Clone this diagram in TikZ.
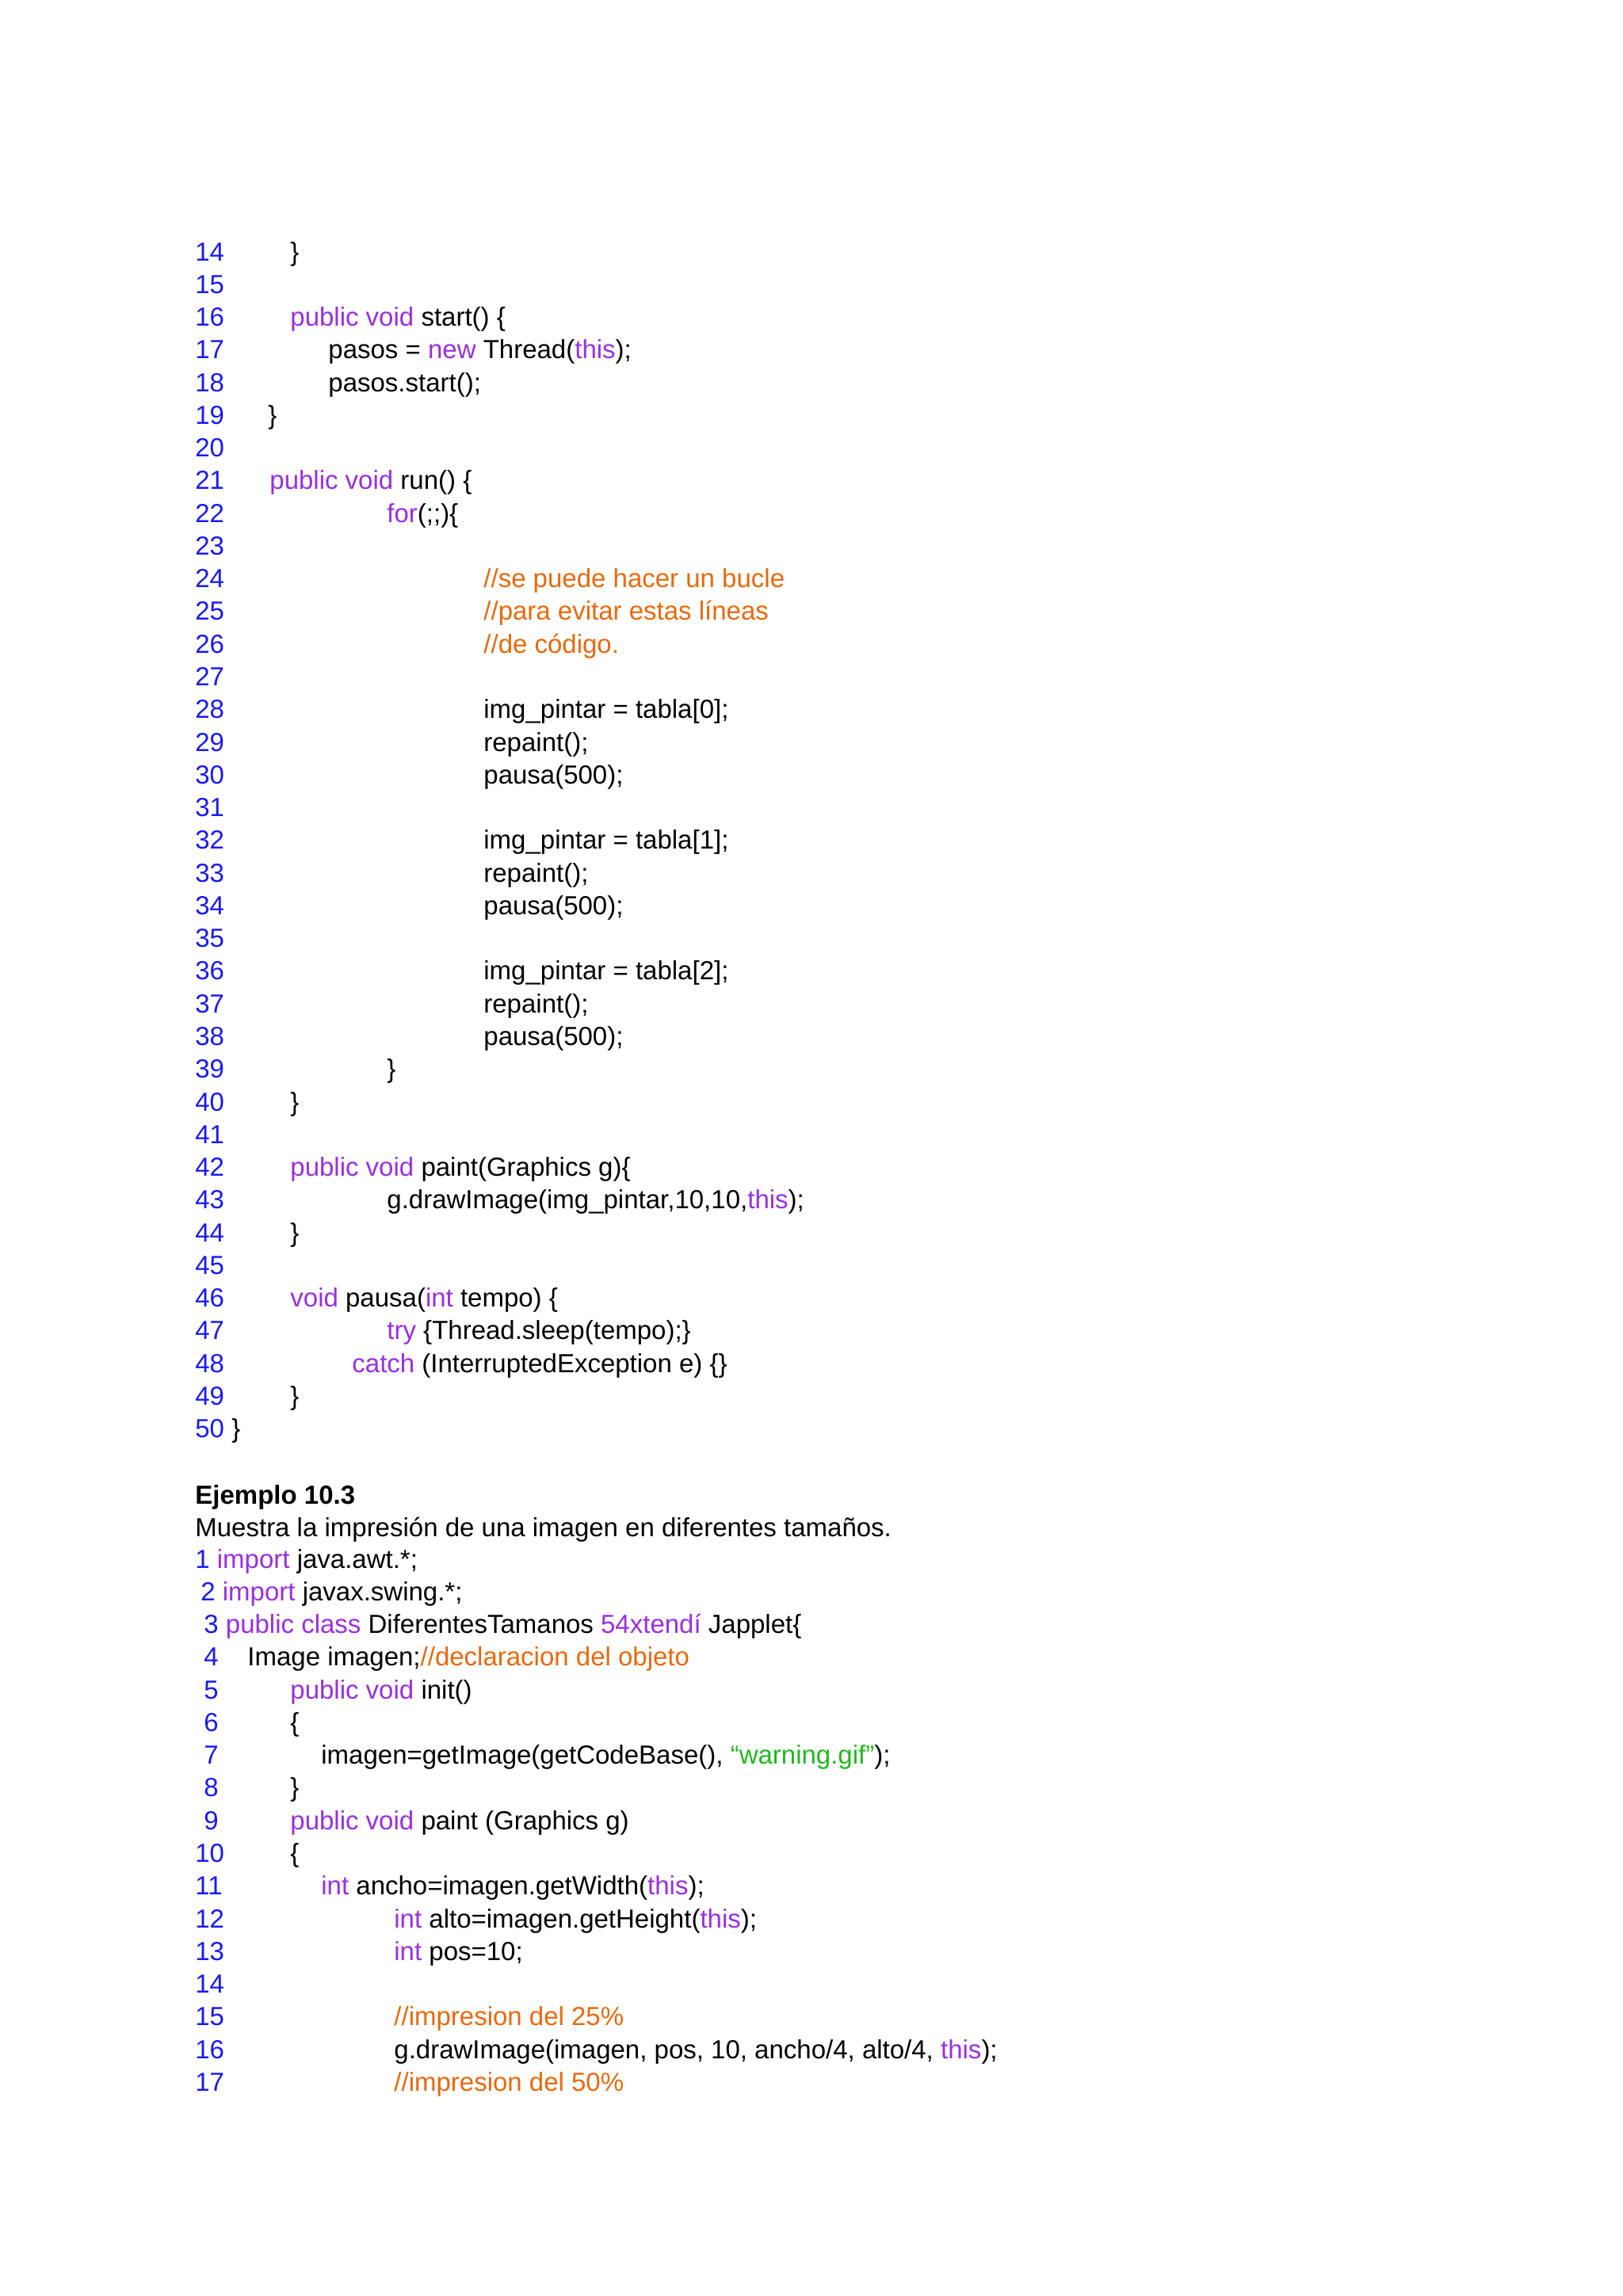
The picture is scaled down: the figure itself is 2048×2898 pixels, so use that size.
\documentclass[tikz,border=0pt]{standalone}
\usepackage{fontspec}
\setmainfont{Liberation Sans}
\definecolor{nb}{HTML}{1A1AF0}
\definecolor{kw}{HTML}{9A2FE0}
\definecolor{cm}{HTML}{E8690F}
\definecolor{st}{HTML}{20B820}
\newcommand{\K}[1]{\textcolor{kw}{#1}}
\newcommand{\C}[1]{\textcolor{cm}{#1}}
\newcommand{\N}[1]{\textcolor{nb}{#1}}
\begin{document}
\begin{tikzpicture}[x=0.5pt,y=-0.5pt,
  tx/.style={anchor=base west,inner sep=0pt,font=\fontsize{16.5pt}{19pt}\selectfont}]
\useasboundingbox[fill=white] (0,0) rectangle (2048,2898);
\newcommand{\LA}[4]{\node[tx] (a#1) at (#2,{329+41.27*(#1-14)}) {#3};\node[tx] (c#1) at (#2,{329+41.27*(#1-14)}) {};}
\newcommand{\LN}[1]{\node[tx] (n#1) at (246,{329+41.27*(#1-14)}) {\N{#1}};}
\newcommand{\LC}[3]{\LN{#1}\node[tx] (t#1) at (#2,{329+41.27*(#1-14)}) {#3};}
\LC{14}{366}{\}}
\LN{15}
\LC{16}{366}{\K{public void} start() \{}
\LC{17}{414}{pasos = \K{new} Thread(\K{this});}
\LC{18}{414}{pasos.start();}
\LC{19}{338}{\}}
\LN{20}
\LC{21}{340}{\K{public void} run() \{}
\LC{22}{488}{\K{for}(;;)\{}
\LN{23}
\LC{24}{610}{\C{//se puede hacer un bucle}}
\LC{25}{610}{\C{//para evitar estas líneas}}
\LC{26}{610}{\C{//de código.}}
\LN{27}
\LC{28}{610}{img\_pintar = tabla[0];}
\LC{29}{610}{repaint();}
\LC{30}{610}{pausa(500);}
\LN{31}
\LC{32}{610}{img\_pintar = tabla[1];}
\LC{33}{610}{repaint();}
\LC{34}{610}{pausa(500);}
\LN{35}
\LC{36}{610}{img\_pintar = tabla[2];}
\LC{37}{610}{repaint();}
\LC{38}{610}{pausa(500);}
\LC{39}{488}{\}}
\LC{40}{366}{\}}
\LN{41}
\LC{42}{366}{\K{public void} paint(Graphics g)\{}
\LC{43}{488}{g.drawImage(img\_pintar,10,10,\K{this});}
\LC{44}{366}{\}}
\LN{45}
\LC{46}{366}{\K{void} pausa(\K{int} tempo) \{}
\LC{47}{488}{\K{try} \{Thread.sleep(tempo);\}}
\LC{48}{444}{\K{catch} (InterruptedException e) \{\}}
\LC{49}{366}{\}}
\node[tx] (n50) at (246,{329+41.27*36}) {\N{50} \}};
% second listing
\node[tx] (ej) at (246,1898) {\bfseries Ejemplo 10.3};
\node[tx] (mu) at (246,1939) {Muestra la impresión de una imagen en diferentes tamaños.};
\newcommand{\M}[4]{\node[tx] (m#1) at (#2,{1979+41.27*(#1-1)}) {\N{#1}};\node[tx] (k#1) at (#3,{1979+41.27*(#1-1)}) {#4};}
\node[tx] (m1) at (246,1979) {\N{1} \K{import} java.awt.*;};
\node[tx] (m2) at (253,{1979+41.27}) {\N{2} \K{import} javax.swing.*;};
\node[tx] (m3) at (257,{1979+41.27*2}) {\N{3} \K{public class} DiferentesTamanos \K{54xtendí} Japplet\{};
\M{4}{257}{312}{Image imagen;\C{//declaracion del objeto}}
\M{5}{257}{366}{\K{public void} init()}
\M{6}{257}{366}{\{}
\M{7}{257}{405}{imagen=getImage(getCodeBase(), \textcolor{st}{“warning.gif”});}
\M{8}{257}{366}{\}}
\M{9}{257}{366}{\K{public void} paint (Graphics g)}
\M{10}{246}{366}{\{}
\M{11}{246}{405}{\K{int} ancho=imagen.getWidth(\K{this});}
\M{12}{246}{497}{\K{int} alto=imagen.getHeight(\K{this});}
\M{13}{246}{497}{\K{int} pos=10;}
\node[tx] (m14) at (246,{1979+41.27*13}) {\N{14}};
\M{15}{246}{497}{\C{//impresion del 25\%}}
\M{16}{246}{497}{g.drawImage(imagen, pos, 10, ancho/4, alto/4, \K{this});}
\M{17}{246}{497}{\C{//impresion del 50\%}}
\end{tikzpicture}
\end{document}
